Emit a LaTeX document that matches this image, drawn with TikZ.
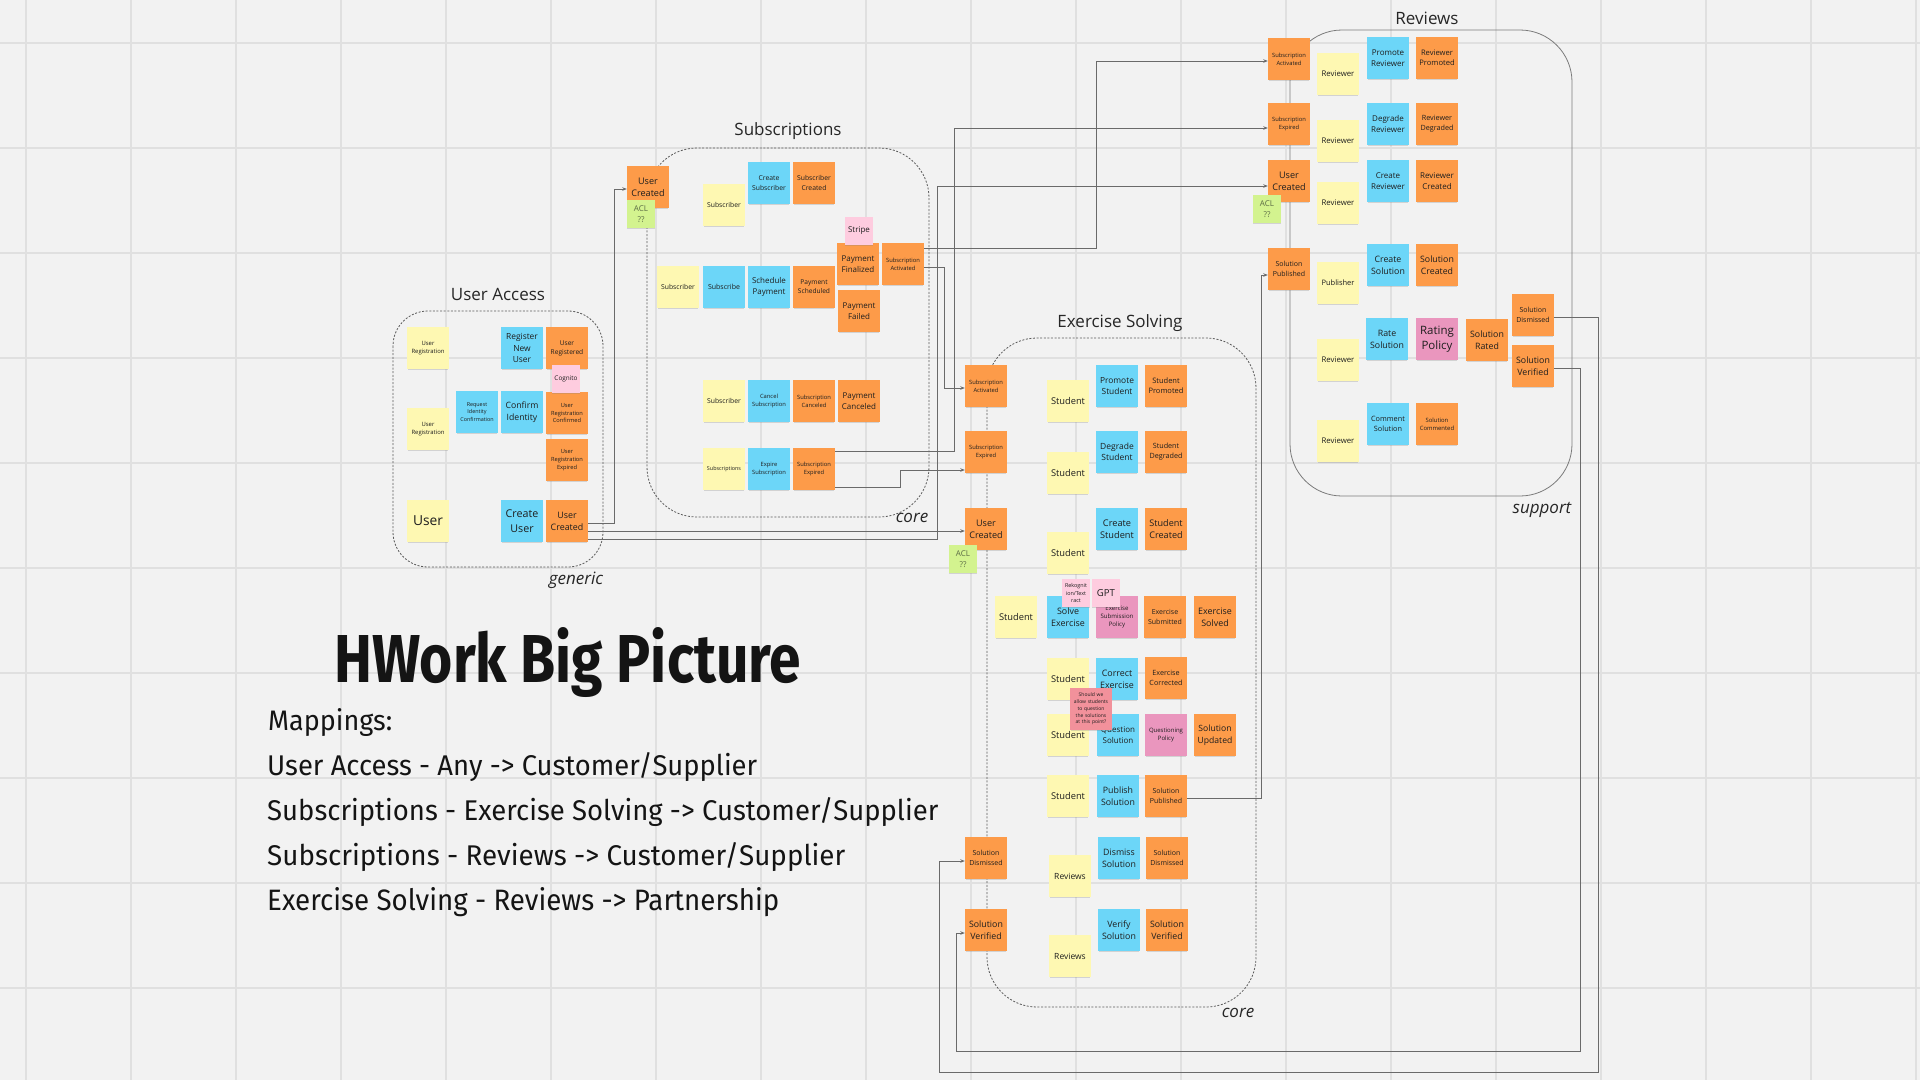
\documentclass[tikz,border=0pt]{standalone}
\usepackage{graphicx}
\usepackage{fontspec}
\setmainfont{Open Sans}
\newfontfamily\handfont{Fira Sans}
\usetikzlibrary{shadows,arrows.meta,calc}
\definecolor{bg}{HTML}{F2F2F2}
\definecolor{gridc}{HTML}{E0E0E0}
\definecolor{cy}{HTML}{FEF8B2}
\definecolor{cb}{HTML}{6CD6F8}
\definecolor{co}{HTML}{FD9B49}
\definecolor{cpl}{HTML}{FECCDF}
\definecolor{cm}{HTML}{EA96BE}
\definecolor{cg}{HTML}{D3F38F}
\definecolor{cr}{HTML}{F2919B}
\definecolor{txt}{HTML}{1E1E1E}
\definecolor{acltxt}{HTML}{5B6B45}
\definecolor{linec}{HTML}{6A6A6A}
\definecolor{framec}{HTML}{5A5A5A}
\tikzset{
  stk/.style={minimum width=42pt, minimum height=42pt, inner sep=0pt, text width=40pt, align=center, text=txt,
    drop shadow={shadow xshift=0pt, shadow yshift=-1.6pt, opacity=0.28, shadow scale=0.97}},
  yel/.style={stk, fill=cy}, blu/.style={stk, fill=cb}, ora/.style={stk, fill=co}, mag/.style={stk, fill=cm},
  pnk/.style={stk, fill=cpl, minimum width=28pt, minimum height=28pt, text width=27pt},
  grn/.style={pnk, fill=cg, text=acltxt},
  fz/.style={font=\fontsize{#1}{\fpeval{1.36*#1}}\selectfont},
  conn/.style={draw=linec, line width=0.9pt, -{Stealth[length=4.5pt,width=3.5pt]}},
  cframe/.style={draw=framec, line width=0.8pt, dash pattern=on 2pt off 1.6pt, rounded corners=#1},
  sframe/.style={draw=framec!80, line width=0.8pt, rounded corners=#1},
  ctitle/.style={font=\fontsize{17}{20}\selectfont, text=black!85},
  ctag/.style={font=\fontsize{17}{20}\selectfont\itshape, text=black!85},
  gridline/.style={draw=gridc, line width=1.2pt},
  hand/.style={anchor=base west, inner sep=0pt, text=black!92},
}
\begin{document}
\begin{tikzpicture}[x=1pt,y=-1pt]
\useasboundingbox (0,0) rectangle (1920,1080);
\fill[bg] (0,0) rectangle (1920,1080);
\foreach \gx in {26,131,...,1916} \draw[gridline] (\gx,0) -- (\gx,1080);
\foreach \gy in {43,148,...,988} \draw[gridline] (0,\gy) -- (1920,\gy);

% containers
\draw[cframe=35] (393,311) rectangle (603,567);
\draw[cframe=50] (647,148) rectangle (929,517);
\draw[cframe=50] (987,338) rectangle (1256,1007);
\draw[sframe=52] (1290,30) rectangle (1572,496);

% titles
\node[ctitle] (tUA) at (498,294) {User Access};
\node[ctitle] (tSB) at (788,131) {Subscriptions};
\node[ctitle] (tRV) at (1427,18) {Reviews};
\node[ctitle] (tEX) at (1120,323) {Exercise Solving};
\node[ctag] (gUA) at (576,580) {generic};
\node[ctag] (gSB) at (912,518) {core};
\node[ctag] (gEX) at (1238,1013) {core};
\node[ctag] (gRV) at (1542,510) {support};

% User Access
\node[yel,fz=5.9] (uaReg1) at (428,348) {User\\Registration};
\node[blu,fz=8.4] (uaRnu) at (522,348) {Register\\New\\User};
\node[ora,fz=6.6] (uaUr) at (567,348) {User\\Registered};
\node[yel,fz=5.9] (uaReg2) at (428,429) {User\\Registration};
\node[blu,fz=5.4] (uaRic) at (477,412) {Request\\Identity\\Confirmation};
\node[blu,fz=8.7] (uaCi) at (522,412) {Confirm\\Identity};
\node[ora,fz=5.7] (uaUrc) at (567,413) {User\\Registration\\Confirmed};
\node[ora,fz=5.7] (uaUre) at (567,460) {User\\Registration\\Expired};
\node[yel,fz=13.8] (uaUser) at (428,521) {User};
\node[blu,fz=10.7] (uaCu) at (522,521) {Create\\User};
\node[ora,fz=8.9] (uaUc) at (567,521) {User\\Created};
\node[pnk,fz=6.4] (uaCog) at (566,379) {Cognito};

% Subscriptions
\node[ora,fz=9.1] (sbUc) at (648,187) {User\\Created};
\node[yel,fz=6.8] (sbS1) at (724,205) {Subscriber};
\node[blu,fz=6.8] (sbCs) at (769,183) {Create\\Subscriber};
\node[ora,fz=6.8] (sbSc) at (814,183) {Subscriber\\Created};
\node[ora,fz=8] (sbPf) at (858,264) {Payment\\Finalized};
\node[ora,fz=5.8] (sbSa) at (903,264) {Subscription\\Activated};
\node[yel,fz=6.8] (sbS2) at (678,287) {Subscriber};
\node[blu,fz=7] (sbSub) at (724,287) {Subscribe};
\node[blu,fz=8] (sbSp) at (769,287) {Schedule\\Payment};
\node[ora,fz=6.6] (sbPs) at (814,287) {Payment\\Scheduled};
\node[ora,fz=8] (sbPfl) at (859,311) {Payment\\Failed};
\node[yel,fz=6.8] (sbS3) at (724,401) {Subscriber};
\node[blu,fz=5.8] (sbCsub) at (769,401) {Cancel\\Subscription};
\node[ora,fz=5.8] (sbSca) at (814,401) {Subscription\\Canceled};
\node[ora,fz=8] (sbPc) at (859,401) {Payment\\Canceled};
\node[yel,fz=5.4] (sbS4) at (724,469) {Subscriptions};
\node[blu,fz=5.8] (sbEs) at (769,469) {Expire\\Subscription};
\node[ora,fz=5.8] (sbSe) at (814,469) {Subscription\\Expired};
\node[pnk,fz=8] (sbStripe) at (859,231) {Stripe};
\node[grn,fz=8] (sbAcl) at (641,214) {ACL\\??};

% Reviews
\node[ora,fz=5.8] (rvSa) at (1289,59) {Subscription\\Activated};
\node[yel,fz=7.8] (rvR1) at (1338,74) {Reviewer};
\node[blu,fz=8] (rvPr) at (1388,58) {Promote\\Reviewer};
\node[ora,fz=7.6] (rvRp) at (1437,58) {Reviewer\\Promoted};
\node[ora,fz=5.8] (rvSe) at (1289,124) {Subscription\\Expired};
\node[yel,fz=7.8] (rvR2) at (1338,141) {Reviewer};
\node[blu,fz=8] (rvDr) at (1388,124) {Degrade\\Reviewer};
\node[ora,fz=7.2] (rvRd) at (1437,124) {Reviewer\\Degraded};
\node[ora,fz=9.1] (rvUc) at (1289,181) {User\\Created};
\node[yel,fz=7.8] (rvR3) at (1338,203) {Reviewer};
\node[blu,fz=8] (rvCr) at (1388,181) {Create\\Reviewer};
\node[ora,fz=8] (rvRc) at (1437,181) {Reviewer\\Created};
\node[ora,fz=7] (rvSp) at (1289,269) {Solution\\Published};
\node[yel,fz=7.5] (rvPub) at (1338,283) {Publisher};
\node[blu,fz=8.8] (rvCs) at (1388,265) {Create\\Solution};
\node[ora,fz=8.8] (rvSc) at (1437,265) {Solution\\Created};
\node[ora,fz=7] (rvSd) at (1533,315) {Solution\\Dismissed};
\node[yel,fz=7.8] (rvR4) at (1338,360) {Reviewer};
\node[blu,fz=8.8] (rvRs) at (1387,339) {Rate\\Solution};
\node[mag,fz=11.5] (rvRpol) at (1437,339) {Rating\\Policy};
\node[ora,fz=8.8] (rvSr) at (1487,340) {Solution\\Rated};
\node[ora,fz=8.8] (rvSv) at (1533,366) {Solution\\Verified};
\node[yel,fz=7.8] (rvR5) at (1338,441) {Reviewer};
\node[blu,fz=7.3] (rvCms) at (1388,424) {Comment\\Solution};
\node[ora,fz=5.9] (rvScm) at (1437,424) {Solution\\Commented};
\node[grn,fz=8] (rvAcl) at (1267,209) {ACL\\??};

% Exercise Solving
\node[ora,fz=5.8] (exSa) at (986,386) {Subscription\\Activated};
\node[yel,fz=9.3] (exSt1) at (1068,401) {Student};
\node[blu,fz=8.4] (exPs) at (1117,386) {Promote\\Student};
\node[ora,fz=7.5] (exSpr) at (1166,386) {Student\\Promoted};
\node[ora,fz=5.8] (exSe) at (986,452) {Subscription\\Expired};
\node[yel,fz=9.3] (exSt2) at (1068,473) {Student};
\node[blu,fz=8.5] (exDs) at (1117,452) {Degrade\\Student};
\node[ora,fz=7.2] (exSdg) at (1166,452) {Student\\Degraded};
\node[ora,fz=9.1] (exUc) at (986,529) {User\\Created};
\node[yel,fz=9.3] (exSt3) at (1068,553) {Student};
\node[blu,fz=9.2] (exCs) at (1117,529) {Create\\Student};
\node[ora,fz=9.1] (exScr) at (1166,529) {Student\\Created};
\node[yel,fz=9.3] (exSt4) at (1016,617) {Student};
\node[blu,fz=8.9] (exSolve) at (1068,617) {Solve\\Exercise};
\node[mag,fz=6.1] (exEsp) at (1117,617) {Exercise\\Submission\\Policy};
\node[ora,fz=7] (exEsub) at (1165,617) {Exercise\\Submitted};
\node[ora,fz=8.9] (exEsol) at (1215,617) {Exercise\\Solved};
\node[yel,fz=9.3] (exSt5) at (1068,679) {Student};
\node[blu,fz=8.9] (exCe) at (1117,679) {Correct\\Exercise};
\node[ora,fz=7.2] (exEc) at (1166,678) {Exercise\\Corrected};
\node[yel,fz=9.3] (exSt6) at (1068,735) {Student};
\node[blu,fz=8] (exQs) at (1118,735) {Question\\Solution};
\node[mag,fz=6] (exQp) at (1166,735) {Questioning\\Policy};
\node[ora,fz=8.6] (exSu) at (1215,735) {Solution\\Updated};
\node[yel,fz=9.3] (exSt7) at (1068,796) {Student};
\node[blu,fz=8.8] (exPub) at (1118,796) {Publish\\Solution};
\node[ora,fz=7] (exSp) at (1166,796) {Solution\\Published};
\node[ora,fz=7] (exSdL) at (986,858) {Solution\\Dismissed};
\node[yel,fz=8.5] (exRv1) at (1070,876) {Reviews};
\node[blu,fz=8.8] (exDis) at (1119,858) {Dismiss\\Solution};
\node[ora,fz=7] (exSd) at (1167,858) {Solution\\Dismissed};
\node[ora,fz=8.8] (exSvL) at (986,930) {Solution\\Verified};
\node[yel,fz=8.5] (exRv2) at (1070,956) {Reviews};
\node[blu,fz=8.8] (exVer) at (1119,930) {Verify\\Solution};
\node[ora,fz=8.8] (exSv) at (1167,930) {Solution\\Verified};
\node[grn,fz=8] (exAcl) at (963,559) {ACL\\??};
\node[pnk,fz=5.4] (exRek) at (1076,593) {Rekognit\\ion/Text\\ract};
\node[pnk,fz=9.6] (exGpt) at (1106,593) {GPT};
\node[stk,fill=cr,fz=5] (exQ) at (1091,709) {Should we\\allow students\\to question\\the solutions\\at this point?};

% connectors
\draw[conn] ([yshift=-2pt]uaUc.east) -- ++(26,0) |- ([yshift=-2pt]sbUc.west);
\coordinate (uaStart2) at ([yshift=-10pt]uaUc.east);
\draw[conn] (uaStart2) -- (uaStart2 -| exUc.west);
\draw[conn] ([yshift=-18pt]uaUc.east) -- ++(349,0) |- ([yshift=-5pt]rvUc.west);
\draw[conn] ([yshift=16pt]sbSa.east) -- ++(172,0) |- ([yshift=-2pt]rvSa.west);
\draw[conn] ([yshift=-3pt]sbSa.east) -- ++(20,0) |- ([yshift=-2pt]exSa.west);
\draw[conn] ([yshift=17.5pt]sbSe.east) -- ++(119,0) |- ([yshift=-4pt]rvSe.west);
\draw[conn] ([yshift=-18.5pt]sbSe.east) -- ++(65,0) |- ([yshift=-18pt]exSe.west);
\draw[conn] ([yshift=-2pt]exSp.east) -- ++(74,0) |- ([yshift=-6pt]rvSp.west);
\draw[conn] ([yshift=-2pt]rvSd.east) -- ++(44,0) -- ++(0,755) -| ([xshift=-25pt,yshift=-3pt]exSdL.west) -- ([yshift=-3pt]exSdL.west);
\draw[conn] ([yshift=-2pt]rvSv.east) -- ++(26,0) -- ++(0,683) -| ([xshift=-8pt,yshift=-3pt]exSvL.west) -- ([yshift=-3pt]exSvL.west);

% big picture text
\node[hand] (mTitle) at (334,682) {\resizebox{467pt}{55pt}{\handfont\bfseries HWork Big Picture}};
\node[hand] (mHead) at (268,730) {\resizebox{124pt}{22pt}{\handfont Mappings:}};
\node[hand] (m1) at (267,775) {\resizebox{490pt}{23pt}{\handfont User Access - Any -> Customer/Supplier}};
\node[hand] (m2) at (267,820) {\resizebox{671pt}{23pt}{\handfont Subscriptions - Exercise Solving -> Customer/Supplier}};
\node[hand] (m3) at (267,865) {\resizebox{578pt}{23pt}{\handfont Subscriptions - Reviews -> Customer/Supplier}};
\node[hand] (m4) at (267,910) {\resizebox{512pt}{23pt}{\handfont Exercise Solving - Reviews -> Partnership}};
\end{tikzpicture}
\end{document}
